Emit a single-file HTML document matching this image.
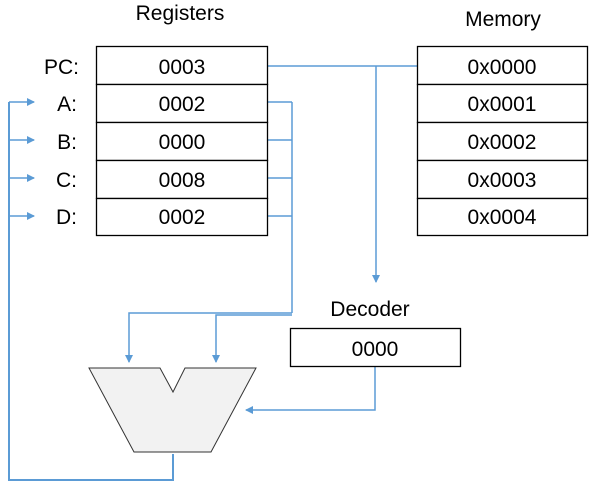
<!DOCTYPE html>
<html><head><style>
body{margin:0;background:#fff;}
svg text{font-family:"Liberation Sans",sans-serif;font-size:21px;fill:#000;}
</style></head><body>
<svg width="607" height="495" viewBox="0 0 607 495">
<defs><marker id="a" markerWidth="8" markerHeight="8" refX="7" refY="4" orient="auto" markerUnits="userSpaceOnUse"><path d="M0,0 L8,4 L0,8 z" fill="#5b9bd5"/></marker></defs>
<g fill="none" stroke="#5b9bd5" stroke-width="1.5">
<path d="M267,66 H417"/>
<path d="M376,66 V282" marker-end="url(#a)"/>
<path d="M267,102 H292 M267,140 H292 M267,178 H292 M267,216 H292 M292,102 V313"/>
<path d="M292,313 H129 V362" marker-end="url(#a)"/>
<path d="M292,315 H216 V362" marker-end="url(#a)"/>
<path d="M375,367 V410 H246" marker-end="url(#a)"/>
<path d="M173,454 V480 H9 V102" stroke-width="2"/>
<path d="M9,102 H34" marker-end="url(#a)"/>
<path d="M9,140 H34" marker-end="url(#a)"/>
<path d="M9,178 H34" marker-end="url(#a)"/>
<path d="M9,216 H34" marker-end="url(#a)"/>
</g>
<g fill="#fff" stroke="#000" stroke-width="1.3">
<rect x="96.5" y="46.5" width="171" height="38"/>
<rect x="96.5" y="84.5" width="171" height="38"/>
<rect x="96.5" y="122.5" width="171" height="38"/>
<rect x="96.5" y="160.5" width="171" height="38"/>
<rect x="96.5" y="198.5" width="171" height="37"/>
<rect x="417.5" y="46.5" width="170" height="38"/>
<rect x="417.5" y="84.5" width="170" height="38"/>
<rect x="417.5" y="122.5" width="170" height="38"/>
<rect x="417.5" y="160.5" width="170" height="38"/>
<rect x="417.5" y="198.5" width="170" height="37"/>
<rect x="290.5" y="328.5" width="170" height="38"/>
</g>
<path d="M89,368 H160 L173,392 L185,368 H256 L211,452 H134 Z" fill="#f2f2f2" stroke="#333" stroke-width="1"/>
<text x="180" y="20" text-anchor="middle">Registers</text>
<text x="503" y="26" text-anchor="middle">Memory</text>
<text x="370" y="316" text-anchor="middle">Decoder</text>
<g text-anchor="middle">
<text x="182" y="74">0003</text><text x="182" y="111">0002</text><text x="182" y="149">0000</text><text x="182" y="187">0008</text><text x="182" y="224">0002</text>
<text x="502" y="74">0x0000</text><text x="502" y="111">0x0001</text><text x="502" y="149">0x0002</text><text x="502" y="187">0x0003</text><text x="502" y="224">0x0004</text>
<text x="375" y="356">0000</text>
</g>
<g text-anchor="end">
<text x="79" y="74">PC:</text><text x="77" y="111">A:</text><text x="77" y="149">B:</text><text x="77" y="187">C:</text><text x="77" y="224">D:</text>
</g>
</svg>
</body></html>
